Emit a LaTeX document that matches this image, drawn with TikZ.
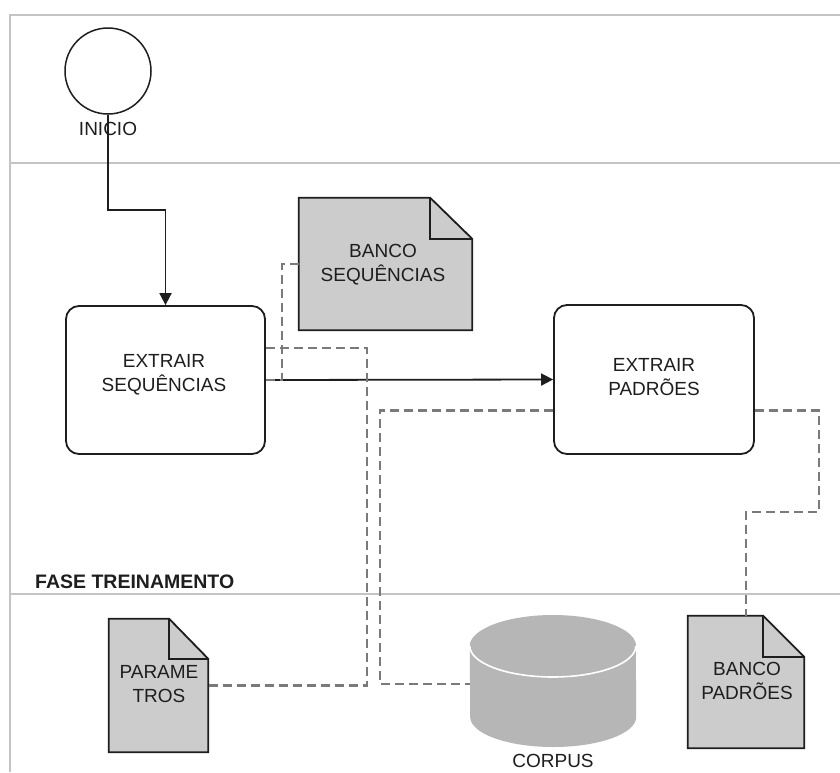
\documentclass[tikz,border=0pt]{standalone}
\usepackage{fontspec}
\setmainfont{Liberation Sans}
\usetikzlibrary{arrows.meta,calc}

\definecolor{framegray}{HTML}{C4C4C4}
\definecolor{dashgray}{HTML}{7A7A7A}
\definecolor{docfill}{HTML}{CCCCCC}
\definecolor{dbfill}{HTML}{B6B6B6}
\definecolor{ink}{HTML}{1E1E1E}

\tikzset{
  frameline/.style={draw=framegray, line width=2.2pt},
  process/.style={draw=ink, line width=1.8pt, rounded corners=13pt, fill=white},
  docholder/.style={draw=none, inner sep=0pt},
  docline/.style={draw=ink, line width=1.8pt, fill=docfill, line join=miter},
  lbl/.style={font=\fontsize{19}{24}\selectfont, text=ink, align=center, inner sep=0pt},
  flow/.style={draw=ink, line width=1.8pt, -{Triangle[length=12pt,width=12pt]}},
  assoc/.style={draw=dashgray, line width=2.2pt, dash pattern=on 9pt off 5pt},
}

% document symbol with a folded top-right corner, drawn round a holder node
\newcommand{\dogear}[3]{%
  \draw[docline] (#1.north west) -- ([xshift=-#2]#1.north east)
    -- ([yshift=-#3]#1.north east) -- (#1.south east) -- (#1.south west) -- cycle;
  \draw[docline, fill=none] ([xshift=-#2]#1.north east)
    -- ([xshift=-#2,yshift=-#3]#1.north east) -- ([yshift=-#3]#1.north east);
}

\begin{document}
\begin{tikzpicture}[x=1pt, y=-1pt]
  \useasboundingbox (0,0) rectangle (840,772);
  \fill[white] (0,0) rectangle (840,772);

  % lanes
  \draw[frameline] (840,15) -- (10,15) -- (10,772);
  \draw[frameline] (10,163) -- (840,163);
  \draw[frameline] (10,594) -- (840,594);
  \node[anchor=west, font=\bfseries\fontsize{19.5}{22}\selectfont, text=ink, inner sep=0pt] (fase) at (35,582) {FASE TREINAMENTO};

  % start event
  \node[draw=ink, line width=1.5pt, circle, minimum size=86pt, inner sep=0pt] (inicio) at (108,71) {};
  \node[lbl] (iniciolbl) at (108,129) {INICIO};

  % activities
  \node[process, minimum width=199pt, minimum height=148pt] (seq) at (165.5,380) {};
  \node[lbl] (seqlbl) at (164,375) {EXTRAIR\\SEQUÊNCIAS};
  \node[process, minimum width=200pt, minimum height=149pt] (pad) at (654,379.5) {};
  \node[lbl] (padlbl) at (654,377) {EXTRAIR\\PADRÕES};

  % data objects
  \node[docholder, minimum width=173pt, minimum height=132pt] (bseq) at (385.5,264) {};
  \dogear{bseq}{42pt}{41pt}
  \node[lbl] (bseqlbl) at (383,265) {BANCO\\SEQUÊNCIAS};

  \node[docholder, minimum width=99pt, minimum height=133pt] (param) at (158.5,685.5) {};
  \dogear{param}{39pt}{40pt}
  \node[lbl] (paramlbl) at (159,684) {PARAME\\TROS};

  \node[docholder, minimum width=116pt, minimum height=132pt] (bpad) at (746,682) {};
  \dogear{bpad}{41pt}{41pt}
  \node[lbl] (bpadlbl) at (747,681) {BANCO\\PADRÕES};

  % data store
  \node[docholder, minimum width=166pt, minimum height=136pt] (corpus) at (553,684) {};
  \fill[dbfill] ([yshift=38pt]corpus.west) arc[start angle=180, end angle=360, x radius=83pt, y radius=-30pt]
    -- ([yshift=-33pt]corpus.east) arc[start angle=0, end angle=180, x radius=83pt, y radius=-30pt] -- cycle;
  \fill[dbfill] ([yshift=38pt]corpus.center) ellipse[x radius=83pt, y radius=31pt];
  \draw[white, line width=1.6pt] ([yshift=38pt]corpus.west) arc[start angle=180, end angle=360, x radius=83pt, y radius=31pt];
  \node[lbl] (corpuslbl) at (553,761) {CORPUS};

  % sequence flows
  \draw[flow] (inicio.south) -- ++(0,95) -| (seq.north);
  \draw[flow] (seq.east) -- (pad.west);

  % associations
  \draw[assoc] (bseq.west) -- ++(-17,0) |- (seq.east);
  \draw[assoc] ([yshift=32pt]seq.east) -| ([xshift=159pt]param.east) -- (param.east);
  \draw[assoc] ([yshift=-31pt]pad.west) -| ([xshift=-90pt]corpus.west) -- (corpus.west);
  \draw[assoc] ([yshift=-31pt]pad.east) -| (819,512) -| (bpad.north);
\end{tikzpicture}
\end{document}
